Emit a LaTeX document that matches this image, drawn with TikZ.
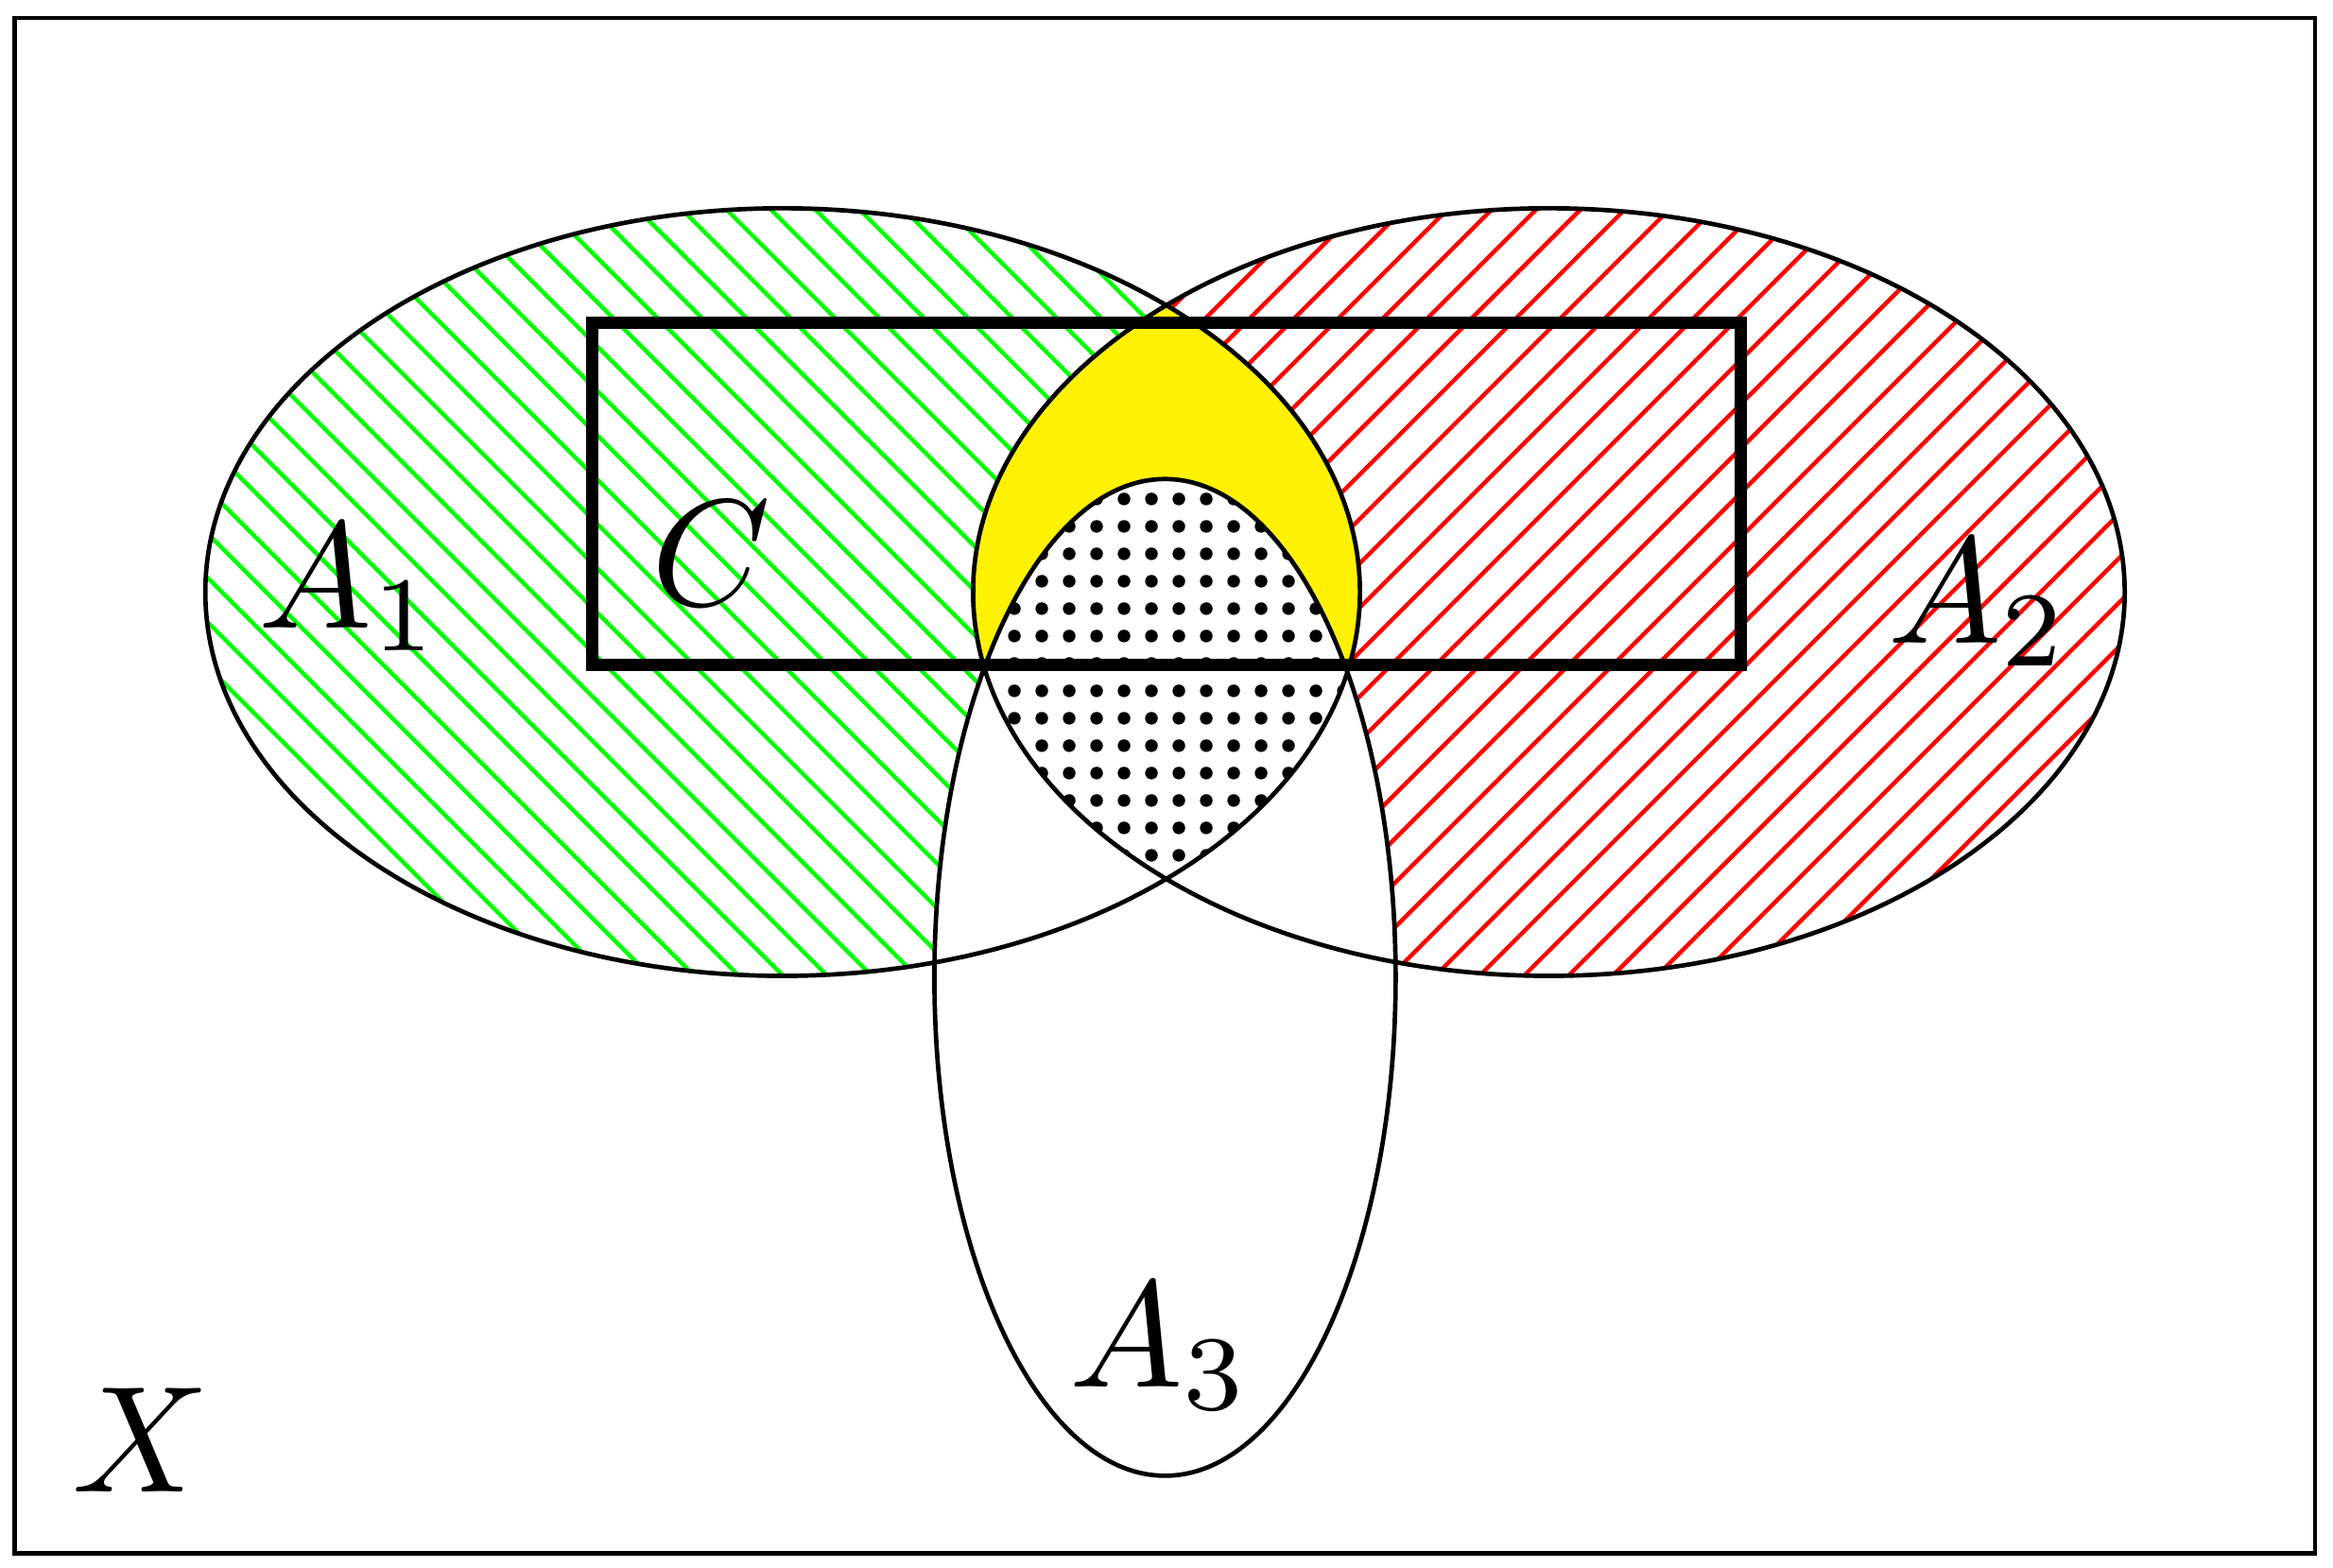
\documentclass[tikz,border=0pt]{standalone}
\usetikzlibrary{patterns.meta}
\begin{document}
\begin{tikzpicture}[x=0.02cm,y=-0.02cm,
  outl/.style={line width=1.7pt}]
\newcommand{\biglbl}[1]{\scalebox{5.8}{$#1$}}
\useasboundingbox (0,0) rectangle (1568,1054);
\def\Aone{(526,398) ellipse [x radius=388, y radius=258]}
\def\Atwo{(1041,398) ellipse [x radius=387, y radius=258]}
\def\Athree{(783,657) ellipse [x radius=155, y radius=335]}
\fill[pattern={Lines[angle=-45,distance=12pt,line width=1.6pt]},pattern color=green] \Aone;
\fill[pattern={Lines[angle=45,distance=12pt,line width=1.6pt]},pattern color=red] \Atwo;
\begin{scope}
  \clip \Aone; \fill[yellow] \Atwo;
\end{scope}
\fill[white] \Athree;
\begin{scope}
  \clip \Aone; \clip \Atwo;
  \fill[pattern={Dots[distance=10.5pt,radius=2.5pt]},pattern color=black] \Athree;
\end{scope}
\draw[outl] \Aone;
\draw[outl] \Atwo;
\draw[outl] \Athree;
\draw[line width=5pt] (398,217) rectangle (1170,447);
\draw[line width=1.7pt] (10,12) rectangle (1556,1044);
\node (c) at (478,372) {\biglbl{C}};
\node (a1) at (235,395) {\biglbl{A_1}};
\node (a2) at (1330,405) {\biglbl{A_2}};
\node (a3) at (780,905) {\biglbl{A_3}};
\node (x) at (95,968) {\biglbl{X}};
\end{tikzpicture}
\end{document}
